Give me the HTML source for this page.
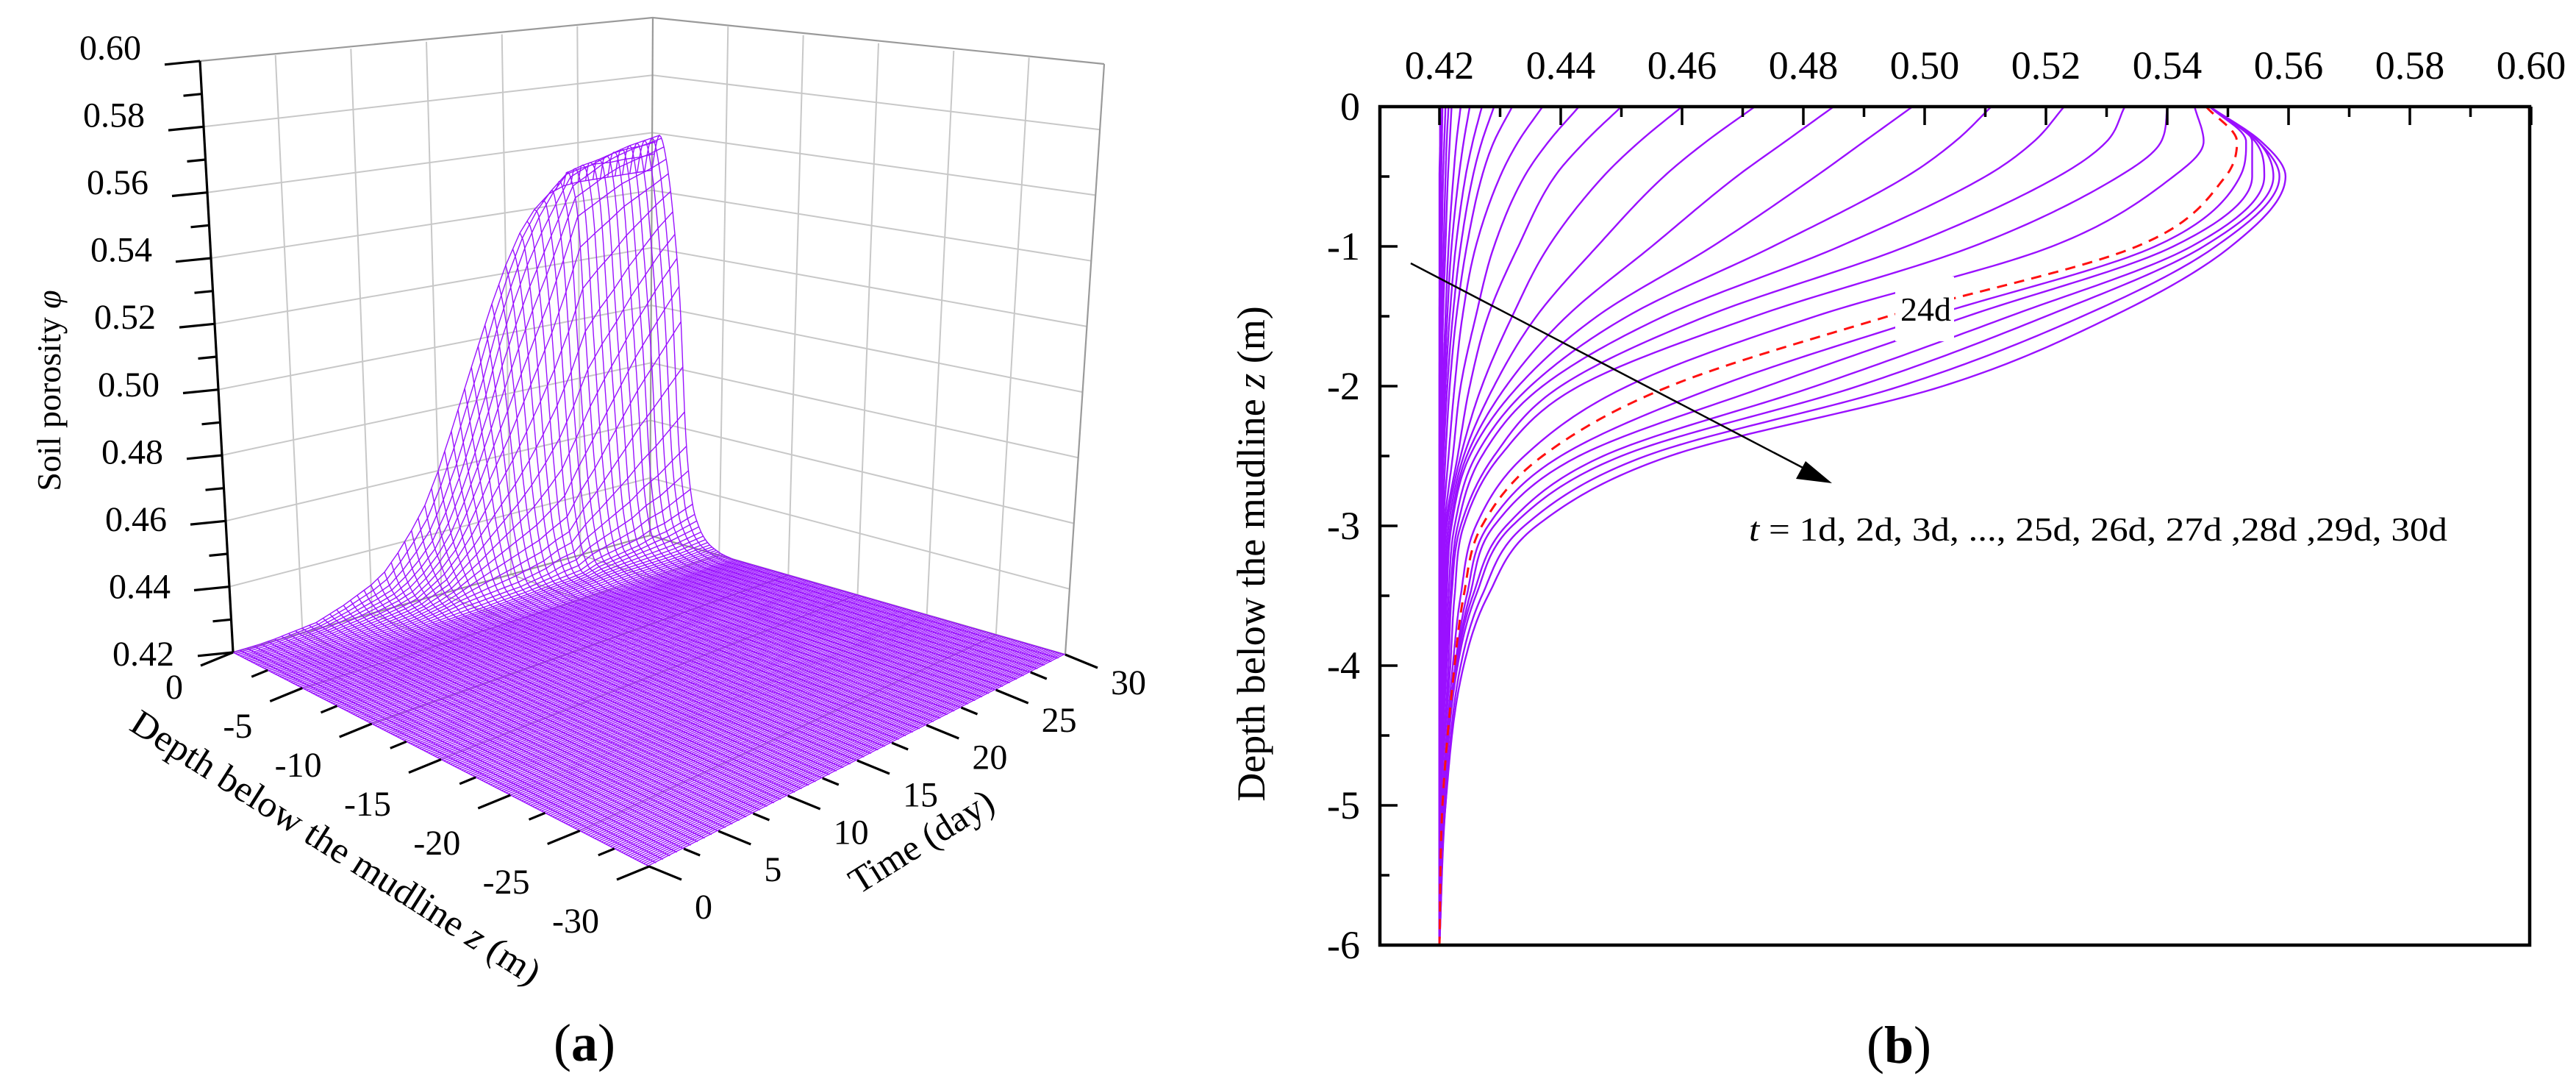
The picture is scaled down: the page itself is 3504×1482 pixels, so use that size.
<!DOCTYPE html>
<html><head><meta charset="utf-8"><style>
html,body{margin:0;padding:0;background:#fff;}
svg{display:block;font-family:"Liberation Serif","DejaVu Serif",serif;}
text{font-family:"Liberation Serif","DejaVu Serif",serif;}
</style></head><body>
<svg id="fig" xmlns="http://www.w3.org/2000/svg" width="3504" height="1482" viewBox="0 0 3504 1482" font-family="Liberation Serif, DejaVu Serif, serif">
<rect x="0" y="0" width="3504" height="1482" fill="#fff"/>
<g id="panelA"></g>
<g id="panelB"></g>
</svg>
<script>
// ---------- data ----------
const depths = [0,-0.25,-0.5,-1,-1.5,-2,-2.5,-3,-3.5,-4,-5,-6];
const days = [1,2,3,4,5,6,7,8,9,10,11,12,13,14,15,16,17,18,19,20,21,22,23,24,25,26,27,28,29,30];
const baseline = 0.42;
const porosity = [
[0.4201,0.4201,0.42,0.42,0.42,0.42,0.42,0.42,0.42,0.42,0.42,0.42],
[0.4202,0.4202,0.4201,0.4201,0.42,0.42,0.42,0.42,0.42,0.42,0.42,0.42],
[0.4205,0.4204,0.4203,0.4202,0.4201,0.42,0.42,0.42,0.42,0.42,0.42,0.42],
[0.421,0.4208,0.4206,0.4204,0.4202,0.4201,0.42,0.42,0.42,0.42,0.42,0.42],
[0.4215,0.4212,0.421,0.4207,0.4204,0.4202,0.4201,0.42,0.42,0.42,0.42,0.42],
[0.422,0.4217,0.4214,0.421,0.4206,0.4204,0.4202,0.4201,0.42,0.42,0.42,0.42],
[0.4235,0.4228,0.4223,0.4215,0.421,0.4206,0.4203,0.4201,0.42,0.42,0.42,0.42],
[0.425,0.424,0.4232,0.422,0.4213,0.4208,0.4204,0.4201,0.42,0.42,0.42,0.42],
[0.427,0.4255,0.4243,0.4227,0.4217,0.421,0.4205,0.4202,0.42,0.42,0.42,0.42],
[0.429,0.427,0.4255,0.4235,0.4222,0.4213,0.4207,0.4203,0.4201,0.42,0.42,0.42],
[0.432,0.429,0.427,0.4245,0.4228,0.4217,0.421,0.4205,0.4202,0.4201,0.42,0.42],
[0.437,0.433,0.430,0.426,0.4238,0.4225,0.4215,0.4206,0.4203,0.4201,0.42,0.42],
[0.443,0.438,0.434,0.429,0.426,0.4235,0.4222,0.4208,0.4204,0.4202,0.42,0.42],
[0.450,0.444,0.439,0.433,0.428,0.425,0.423,0.421,0.4205,0.4203,0.42,0.42],
[0.460,0.453,0.447,0.438,0.432,0.427,0.4235,0.4212,0.4206,0.4204,0.42,0.42],
[0.472,0.464,0.457,0.446,0.436,0.429,0.424,0.4215,0.4208,0.4205,0.42,0.42],
[0.485,0.477,0.469,0.455,0.441,0.431,0.4245,0.4218,0.421,0.4206,0.42,0.42],
[0.498,0.490,0.482,0.465,0.446,0.433,0.425,0.422,0.4212,0.4208,0.42,0.42],
[0.511,0.505,0.497,0.475,0.451,0.435,0.426,0.4225,0.4215,0.421,0.4201,0.42],
[0.523,0.518,0.510,0.486,0.457,0.437,0.427,0.423,0.4218,0.4212,0.4201,0.42],
[0.533,0.530,0.522,0.497,0.464,0.440,0.429,0.4235,0.422,0.4215,0.4202,0.42],
[0.540,0.539,0.532,0.508,0.472,0.443,0.430,0.424,0.4225,0.4218,0.4202,0.42],
[0.5445,0.546,0.541,0.521,0.482,0.451,0.434,0.426,0.4235,0.4222,0.4204,0.42],
[0.5464,0.5515,0.5496,0.535,0.494,0.458,0.437,0.427,0.424,0.4225,0.4205,0.42],
[0.547,0.553,0.552,0.538,0.501,0.466,0.440,0.428,0.4245,0.4226,0.4205,0.42],
[0.547,0.554,0.554,0.541,0.507,0.474,0.443,0.429,0.425,0.4227,0.4206,0.42],
[0.547,0.5545,0.556,0.544,0.514,0.482,0.447,0.431,0.4255,0.4228,0.4207,0.42],
[0.547,0.555,0.5575,0.546,0.520,0.489,0.450,0.432,0.426,0.423,0.4208,0.42],
[0.547,0.555,0.5585,0.548,0.526,0.496,0.454,0.434,0.427,0.4235,0.421,0.42],
[0.547,0.5555,0.5595,0.5505,0.531,0.503,0.458,0.436,0.428,0.424,0.421,0.42]
];
const highlightDay = 24;
const xTicksB = [0.42,0.44,0.46,0.48,0.50,0.52,0.54,0.56,0.58,0.60];
const yTicksB = [0,-1,-2,-3,-4,-5,-6];
const phiTicksA = [0.42,0.44,0.46,0.48,0.50,0.52,0.54,0.56,0.58,0.60];
const depthTicksA = [0,-5,-10,-15,-20,-25,-30];
const timeTicksA = [0,5,10,15,20,25,30];

const NS = "http://www.w3.org/2000/svg";
const FF = "Liberation Serif, DejaVu Serif, serif";
function el(tag, attrs, parent){ const e=document.createElementNS(NS,tag); for(const k in attrs) e.setAttribute(k,attrs[k]); if(tag==='text') e.setAttribute('font-family',FF); parent.appendChild(e); return e; }

function profileAt(vals, z){
  const s = depths.map(d=>-d), y = vals, n=s.length, q=-z;
  if(q<=s[0]) return y[0];
  if(q>=s[n-1]) return y[n-1];
  const h=[],dl=[]; for(let i=0;i<n-1;i++){h[i]=s[i+1]-s[i]; dl[i]=(y[i+1]-y[i])/h[i];}
  const m=[dl[0]]; for(let i=1;i<n-1;i++){ m[i]=(dl[i-1]*dl[i]<=0)?0:(dl[i-1]+dl[i])/2; } m[n-1]=dl[n-2];
  for(let i=0;i<n-1;i++){ if(dl[i]===0){m[i]=0;m[i+1]=0;continue;} const a=m[i]/dl[i], b=m[i+1]/dl[i]; const t=a*a+b*b; if(t>9){const r=3/Math.sqrt(t); m[i]=r*a*dl[i]; m[i+1]=r*b*dl[i];} }
  let i=0; while(q>s[i+1]) i++;
  const t=(q-s[i])/h[i], t2=t*t, t3=t2*t;
  return (2*t3-3*t2+1)*y[i]+(t3-2*t2+t)*h[i]*m[i]+(-2*t3+3*t2)*y[i+1]+(t3-t2)*h[i]*m[i+1];
}
function valueAt(t, z){
  if(t<=0) return baseline;
  const k=Math.floor(t);
  const lo = k<1 ? null : porosity[Math.min(k,30)-1];
  const hi = porosity[Math.min(k+1,30)-1];
  const vLo = lo? profileAt(lo,z) : baseline;
  if(k>=30) return vLo;
  const vHi = profileAt(hi,z);
  const f=t-k; return vLo+(vHi-vLo)*f;
}

// ---------- panel B ----------
(function(){
  const g=document.getElementById('panelB');
  const X0=1958, X1=3443, L=1877, R=3441, T=145, B=1285;
  const xs = v => X0 + (v-0.42)/0.18*(X1-X0);
  const ys = z => T + (-z)/6*(B-T);
  const cl=el('clipPath',{id:'clipB'},g); el('rect',{x:L,y:T,width:R-L,height:B-T},cl);
  const curves=el('g',{'clip-path':'url(#clipB)'},g);
  
  
  function pathFor(vals){ let d=''; for(let z=0; z>=-6.0001; z-=0.02){ const p=[xs(profileAt(vals,z)), ys(z)]; d+=(d?'L':'M')+p[0].toFixed(1)+' '+p[1].toFixed(1); } return d; }
  days.forEach((day,i)=>{
    if(day===highlightDay) return;
    const p=el('path',{d:pathFor(porosity[i]),fill:'none',stroke:'#9a10ff','stroke-width':2.4},curves);
    
    
  });
  const hi=el('path',{d:pathFor(porosity[days.indexOf(highlightDay)]),fill:'none',stroke:'#ff1010','stroke-width':3,'stroke-dasharray':'14 10'},curves);
  
  
  const lb=el('rect',{x:2578,y:376,width:80,height:88,fill:'#fff'},g);
  
  
  const t24=el('text',{x:2585,y:436,'font-size':46},g); t24.textContent='24d';
  
  
  const fr=el('rect',{x:L,y:T,width:R-L,height:B-T,fill:'none',stroke:'#000','stroke-width':4.5},g);
  
  
  for(let k=0;k<=18;k++){ const v=0.42+k*0.01; const x=xs(v); const major=k%2===0;
    el('line',{x1:x,y1:T,x2:x,y2:T+(major?25:14),stroke:'#000','stroke-width':3.5},g); }
  xTicksB.forEach(v=>{ const t=el('text',{x:xs(v),y:107,'font-size':54,'text-anchor':'middle'},g); t.textContent=v.toFixed(2);
      });
  for(let k=0;k<=12;k++){ const z=-k*0.5; const y=ys(z); const major=k%2===0;
    el('line',{x1:L,y1:y,x2:L+(major?24:13),y2:y,stroke:'#000','stroke-width':3.5},g); }
  yTicksB.forEach(z=>{ const t=el('text',{x:1850,y:ys(z)+18,'font-size':54,'text-anchor':'end'},g); t.textContent=(z===0?'0':String(z));
      });
  const yt=el('text',{x:0,y:0,'font-size':54,'text-anchor':'middle',transform:'translate(1720,753) rotate(-90)'},g);
  yt.innerHTML='Depth below the mudline <tspan font-style="italic">z</tspan> (m)';
   
  const ar=el('line',{x1:1919,y1:358,x2:2462,y2:641,stroke:'#000','stroke-width':2.5},g);
   
  const ah=el('polygon',{points:'2492,657 2443,651 2456,627',fill:'#000'},g);
   
  const tt=el('text',{x:2379,y:735,'font-size':46,textLength:950,lengthAdjust:'spacingAndGlyphs'},g);
  tt.innerHTML='<tspan font-style="italic">t</tspan> = 1d, 2d, 3d, ..., 25d, 26d, 27d ,28d ,29d, 30d';
   
  const pb=el('text',{x:2583,y:1445,'font-size':72,'text-anchor':'middle'},g);
  pb.innerHTML='(<tspan font-weight="bold">b</tspan>)';
   
})();

// ---------- panel A ----------
(function(){
  const g=document.getElementById('panelA');
  const A=[317,887],Bc=[883,1178],C=[1449,890],D=[884,728];
  const H=[804,932,803,704], DX=[-45,5,53,4];
  function bil(a,b,c,d,u,v){ return (1-u)*(1-v)*a+u*(1-v)*b+u*v*c+(1-u)*v*d; }
  function P(u,v,f){ const fx=bil(A[0],Bc[0],C[0],D[0],u,v), fy=bil(A[1],Bc[1],C[1],D[1],u,v);
    const h=1/bil(1/H[0],1/H[1],1/H[2],1/H[3],u,v), dx=bil(DX[0],DX[1],DX[2],DX[3],u,v);
    return [fx+f*dx, fy-f*h]; }
  const uD = d => -d/30, vT = t => t/30, fP = p => (p-0.42)/0.18;
  function line(pts, attrs, name){ const d=pts.map((p,i)=>(i?'L':'M')+p[0].toFixed(1)+' '+p[1].toFixed(1)).join(''); const e=el('path',Object.assign({d:d,fill:'none'},attrs),g);   return e; }
  const grid={stroke:'#c8c8c8','stroke-width':2};
  const edge={stroke:'#9a9a9a','stroke-width':2.2};
  for(let k=1;k<=8;k++){ const f=k/9;
    line([P(0,0,f),P(0,1,f)],grid,'left-wall-gridline');
    line([P(0,1,f),P(1,1,f)],grid,'right-wall-gridline'); }
  for(let k=1;k<=5;k++){ const s=k/6;
    line([P(0,s,0),P(0,s,1)],grid,'left-wall-vertical-gridline');
    line([P(s,1,0),P(s,1,1)],grid,'right-wall-vertical-gridline');
    line([P(s,0,0),P(s,1,0)],{stroke:'#b0b0b0','stroke-width':1.5},'floor-gridline');
    line([P(0,s,0),P(1,s,0)],{stroke:'#b0b0b0','stroke-width':1.5},'floor-gridline'); }
  line([P(0,0,1),P(0,1,1),P(1,1,1)],edge,'wall-top-edge');
  line([P(0,1,0),P(0,1,1)],edge,'back-corner-edge');
  line([P(1,1,0),P(1,1,1)],edge,'right-wall-edge');
  line([P(0,1,0),P(1,1,0)],edge,'right-floor-edge');
  line([P(0,0,0),P(0,1,0)],edge,'left-floor-edge');
  const mesh=el('g',{fill:'none',stroke:'#9a12ff','stroke-width':1.4},g);
   
  const zs=[]; for(let z=0; z>=-6.0001; z-=0.1) zs.push(z); [-7,-9,-12,-16,-20,-25,-30].forEach(z=>zs.push(z));
  const ts=[]; for(let t=0;t<=30.0001;t+=0.5) ts.push(t);
  const cache={}; function val(t,z){ const k=t.toFixed(2)+'_'+z.toFixed(2); if(!(k in cache)) cache[k]=valueAt(t,z); return cache[k]; }
  ts.forEach(t=>{ const d=zs.map((z,i)=>{const p=P(uD(z),vT(t),fP(val(t,z))); return (i?'L':'M')+p[0].toFixed(1)+' '+p[1].toFixed(1);}).join('');
    const e=el('path',{d:d},mesh);   });
  for(let z=0; z>=-30.0001; z-=0.16){ const d=ts.map((t,i)=>{const p=P(uD(z),vT(t),fP(val(t,z))); return (i?'L':'M')+p[0].toFixed(1)+' '+p[1].toFixed(1);}).join('');
    const e=el('path',{d:d},mesh);   }
  const ax={stroke:'#000','stroke-width':3.2};
  line([P(0,0,0),P(0,0,1)],ax,'z-axis-line');
  for(let k=0;k<=18;k++){ const f=k/18, p=P(0,0,f), maj=k%2===0; const L=maj?48:25;
    line([p,[p[0]-L,p[1]+L*0.1]],ax,'z-axis-tick'); }
  phiTicksA.forEach(v=>{ const f=fP(v), p=P(0,0,f); const t=el('text',{x:p[0]-80,y:p[1]+(-18*f+2*(1-f))+16,'font-size':48,'text-anchor':'end'},g); t.textContent=v.toFixed(2);
      });
  for(let k=0;k<=12;k++){ const u=k/12, p=P(u,0,0), maj=k%2===0; const s=maj?1:0.5;
    line([p,[p[0]-44*s,p[1]+18*s]],ax,'depth-axis-tick'); }
  depthTicksA.forEach(d=>{ const u=uD(d), p=P(u,0,0); const t=el('text',{x:p[0]-68,y:p[1]+47+27*u+16,'font-size':48,'text-anchor':'end'},g); t.textContent=String(d);
      });
  for(let k=0;k<=12;k++){ const v=k/12, p=P(1,v,0), maj=k%2===0; const s=maj?1:0.5;
    line([p,[p[0]+44*s,p[1]+18*s]],ax,'time-axis-tick'); }
  timeTicksA.forEach(tv=>{ const v=vT(tv), p=P(1,v,0); const t=el('text',{x:p[0]+62,y:p[1]+55-17*v+16,'font-size':48,'text-anchor':'start'},g); t.textContent=String(tv);
      });
  const t1=el('text',{x:0,y:0,'font-size':46,'text-anchor':'middle',transform:'translate(82,531) rotate(-90)'},g);
  t1.innerHTML='Soil porosity  <tspan font-style="italic">φ</tspan>';
   
  const t2=el('text',{x:0,y:0,'font-size':50,'text-anchor':'middle',textLength:650,lengthAdjust:'spacingAndGlyphs',transform:'translate(448,1166) rotate(32.5)'},g);
  t2.innerHTML='Depth below the mudline <tspan font-style="italic">z</tspan> (m)';
   
  const t3=el('text',{x:0,y:0,'font-size':50,'text-anchor':'middle',transform:'translate(1262,1158) rotate(-32)'},g);
  t3.textContent='Time (day)';
   
  const pa=el('text',{x:795,y:1442,'font-size':72,'text-anchor':'middle'},g);
  pa.innerHTML='(<tspan font-weight="bold">a</tspan>)';
   
})();
</script>
</body></html>
